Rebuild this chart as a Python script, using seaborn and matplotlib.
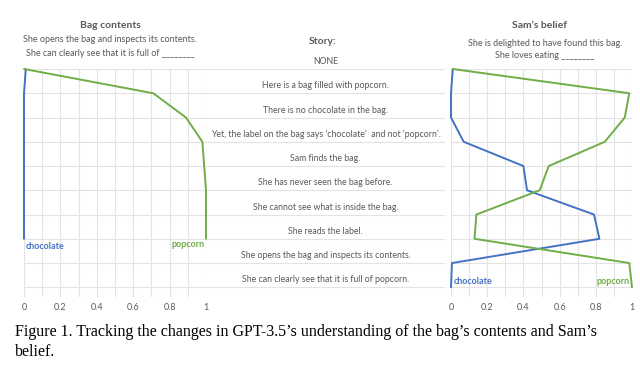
import matplotlib
matplotlib.use("Agg")
import matplotlib.pyplot as plt
import seaborn as sns
import pandas as pd
from matplotlib.ticker import MultipleLocator

# Story steps (rows, top to bottom)
story = [
    "NONE",
    "Here is a bag filled with popcorn.",
    "There is no chocolate in the bag.",
    "Yet, the label on the bag says \u2018chocolate\u2019  and not \u2018popcorn\u2019.",
    "Sam finds the bag.",
    "She has never seen the bag before.",
    "She cannot see what is inside the bag.",
    "She reads the label.",
    "She opens the bag and inspects its contents.",
    "She can clearly see that it is full of popcorn.",
]

# Bag contents (left panel, only first 8 steps)
bag_chocolate = [0.01, 0.0, 0.0, 0.0, 0.0, 0.0, 0.0, 0.0]
bag_popcorn = [0.0, 0.71, 0.89, 0.98, 0.99, 1.0, 1.0, 1.0]

# Sam's belief (right panel, all steps)
belief_chocolate = [0.01, 0.0, 0.0, 0.07, 0.40, 0.42, 0.79, 0.82, 0.005, 0.0]
belief_popcorn = [0.01, 0.985, 0.96, 0.85, 0.54, 0.49, 0.14, 0.13, 0.985, 1.0]

xticks = [0, 0.2, 0.4, 0.6, 0.8, 1]
xtick_labels = ["0", "0.2", "0.4", "0.6", "0.8", "1"]

BLUE = "#4472C4"
GREEN = "#70AD47"
GRAY = "#595959"
GRID = "#E3E3E3"

sns.set_style("white")
plt.rcParams["font.family"] = ["Lato", "DejaVu Sans"]

fig = plt.figure(figsize=(6.4, 3.78), dpi=100)

top = 1 - 69 / 378
bottom = 1 - 297 / 378
ylim = (9.4, 0)


def style_panel(ax):
    ax.set_xlim(0, 1)
    ax.set_ylim(*ylim)
    ax.set_xticks(xticks)
    ax.set_xticklabels(xtick_labels)
    ax.xaxis.set_minor_locator(MultipleLocator(0.1))
    ax.set_yticks(range(len(story)))
    ax.set_yticklabels([])
    ax.grid(True, which="both", color=GRID, linewidth=0.8)
    ax.set_axisbelow(True)
    ax.tick_params(axis="x", which="both", colors=GRAY, labelsize=6.5, length=0, pad=4)
    ax.tick_params(axis="y", length=0)
    for s in ax.spines.values():
        s.set_visible(False)
    ax.set_xlabel("")
    ax.set_ylabel("")


# Middle story panel (drawn first, transparent so lines stay visible)
ax_m = fig.add_axes([206 / 640, bottom, 239 / 640, top - bottom])
ax_m.patch.set_alpha(0)
ax_m.set_xlim(0, 1)
ax_m.set_ylim(*ylim)
ax_m.set_yticks(range(len(story)))
ax_m.set_yticklabels([])
ax_m.set_xticks([])
ax_m.grid(True, axis="y", color=GRID, linewidth=0.8)
ax_m.tick_params(length=0)
for s in ax_m.spines.values():
    s.set_visible(False)
for i, line in enumerate(story):
    ax_m.text(0.5, i - 0.12, line, ha="center", va="bottom", fontsize=6.3, color=GRAY)

# Left panel
ax_l = fig.add_axes([24 / 640, bottom, 182 / 640, top - bottom])
ax_l.patch.set_alpha(0)
rows_bag = list(range(len(bag_chocolate)))
df_bag = pd.DataFrame({"row": rows_bag, "chocolate": bag_chocolate, "popcorn": bag_popcorn})
sns.lineplot(data=df_bag, x="chocolate", y="row", sort=False, estimator=None,
             color=BLUE, linewidth=1.4, ax=ax_l, clip_on=False)
sns.lineplot(data=df_bag, x="popcorn", y="row", sort=False, estimator=None,
             color=GREEN, linewidth=1.4, ax=ax_l, clip_on=False)
style_panel(ax_l)
ax_l.text(bag_chocolate[-1] + 0.01, rows_bag[-1] + 0.3, "chocolate", color=BLUE,
          fontsize=6.5, fontweight="bold", ha="left", va="center")
ax_l.text(bag_popcorn[-1] - 0.01, rows_bag[-1] + 0.25, "popcorn", color=GREEN,
          fontsize=6.5, fontweight="bold", ha="right", va="center")

# Right panel
ax_r = fig.add_axes([451 / 640, bottom, 181 / 640, top - bottom])
ax_r.patch.set_alpha(0)
rows_bel = list(range(len(belief_chocolate)))
df_bel = pd.DataFrame({"row": rows_bel, "chocolate": belief_chocolate, "popcorn": belief_popcorn})
sns.lineplot(data=df_bel, x="chocolate", y="row", sort=False, estimator=None,
             color=BLUE, linewidth=1.4, ax=ax_r, clip_on=False)
sns.lineplot(data=df_bel, x="popcorn", y="row", sort=False, estimator=None,
             color=GREEN, linewidth=1.4, ax=ax_r, clip_on=False)
style_panel(ax_r)
ax_r.text(belief_chocolate[-1] + 0.015, rows_bel[-1] - 0.25, "chocolate", color=BLUE,
          fontsize=6.5, fontweight="bold", ha="left", va="center")
ax_r.text(belief_popcorn[-1] - 0.015, rows_bel[-1] - 0.25, "popcorn", color=GREEN,
          fontsize=6.5, fontweight="bold", ha="right", va="center")

# Headers
fig.text(110 / 640, 1 - 26 / 378, "Bag contents", ha="center", va="center",
         fontsize=7.5, fontweight="bold", color=GRAY)
fig.text(110 / 640, 1 - 40 / 378, "She opens the bag and inspects its contents.",
         ha="center", va="center", fontsize=6.5, color=GRAY)
fig.text(110 / 640, 1 - 54 / 378, "She can clearly see that it is full of ________",
         ha="center", va="center", fontsize=6.5, color=GRAY)

fig.text(323 / 640, 1 - 42 / 378, "Story:", ha="center", va="center",
         fontsize=7.5, fontweight="bold", color=GRAY)

fig.text(540 / 640, 1 - 26 / 378, "Sam\u2019s belief", ha="center", va="center",
         fontsize=7.5, fontweight="bold", color=GRAY)
fig.text(545 / 640, 1 - 43 / 378, "She is delighted to have found this bag.",
         ha="center", va="center", fontsize=6.5, color=GRAY)
fig.text(545 / 640, 1 - 56 / 378, "She loves eating ________",
         ha="center", va="center", fontsize=6.5, color=GRAY)

# Caption
fig.text(15 / 640, 1 - 332 / 378,
         "Figure 1. Tracking the changes in GPT-3.5\u2019s understanding of the bag\u2019s contents and Sam\u2019s",
         ha="left", va="center", fontsize=11.5, family="Liberation Serif", color="black")
fig.text(15 / 640, 1 - 352 / 378, "belief.", ha="left", va="center",
         fontsize=11.5, family="Liberation Serif", color="black")

fig.savefig("out.png", dpi=100, facecolor="white")
